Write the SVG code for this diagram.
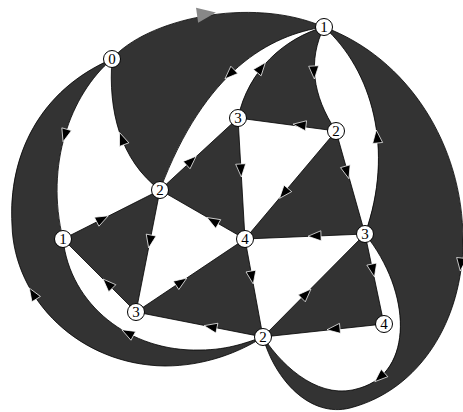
<svg xmlns="http://www.w3.org/2000/svg" xmlns:xlink="http://www.w3.org/1999/xlink" width="463" height="412" viewBox="0 0 463 412">
<defs>
<style>
.dark{fill:#333333;stroke:none}
.white{fill:#ffffff;stroke:none}
.e{fill:none;stroke:#000;stroke-width:0.8}
.ar{fill:#000;stroke:#fff;stroke-width:0.7;stroke-linejoin:miter}
.node circle{fill:#fff;stroke:#000;stroke-width:1}
.node text{font-family:"Liberation Serif","DejaVu Serif",serif;font-size:15px;fill:#000;text-anchor:middle;dominant-baseline:central}
</style>
<path id="ah" d="M7,0 L-6,-5 L-6,5 Z"/>
</defs>
<rect width="463" height="412" fill="#fff"/>
<g id="faces">
<path class="dark" d="M112,59 C145,20 250,-5 324,27 C408,58 463,145 463,240 C463,320 420,390 350,408 C310,418 275,380 263,337 C240,352 205,366 165,366 C80,365 14,300 12,225 C8,155 40,90 112,59 Z"/>
<path class="white" d="M112,59 C108,110 120,160 160,190 L63,239 C45,165 70,95 112,59 Z"/>
<path class="white" d="M63,239 L136,312 L263,337 C250,341 230,350 200,350 C130,352 70,305 63,239 Z"/>
<path class="white" d="M160,190 L136,312 L245,239 Z"/>
<path class="white" d="M160,190 L238,118 C248,70 285,38 324,27 C270,35 205,70 160,190 Z"/>
<path class="white" d="M238,118 L336,131 L245,239 Z"/>
<path class="white" d="M324,27 C308,60 312,95 336,131 L365,234 C395,150 372,70 324,27 Z"/>
<path class="white" d="M245,239 L365,234 L263,337 Z"/>
<path class="white" d="M365,234 L384,324 L263,337 C285,370 322,401 360,388 C414,372 412,292 365,234 Z"/>
</g>
<g id="connectors">
<path class="e" d="M112,59 C145,20 250,-5 324,27"/>
<path class="e" d="M324,27 C408,58 463,145 463,240 C463,320 420,390 350,408 C310,418 275,380 263,337"/>
<path class="e" d="M112,59 C40,90 8,155 12,225 C14,300 80,365 165,366 C205,366 240,352 263,337"/>
<path class="e" d="M112,59 C70,95 45,165 63,239"/>
<path class="e" d="M112,59 C108,110 120,160 160,190"/>
<path class="e" d="M324,27 C270,35 205,70 160,190"/>
<path class="e" d="M324,27 C285,38 248,70 238,118"/>
<path class="e" d="M324,27 C308,60 312,95 336,131"/>
<path class="e" d="M324,27 C372,70 395,150 365,234"/>
<path class="e" d="M63,239 C70,305 130,352 200,350 C230,350 250,341 263,337"/>
<path class="e" d="M365,234 C412,292 414,372 360,388 C322,401 285,370 263,337"/>
<path class="e" d="M238,118 L336,131 M238,118 L245,239 M336,131 L245,239 M336,131 L365,234 M160,190 L238,118 M160,190 L245,239 M160,190 L136,312 M160,190 L63,239 M63,239 L136,312 M136,312 L245,239 M136,312 L263,337 M245,239 L365,234 M245,239 L263,337 M365,234 L263,337 M365,234 L384,324 M384,324 L263,337"/>
<g id="arrows">
<path d="M10,0 L-9,-7.5 L-9,7.5 Z" fill="#888" transform="translate(206,14) rotate(-8)"/>
<use xlink:href="#ah" class="ar" transform="translate(230,74) rotate(136)"/>
<use xlink:href="#ah" class="ar" transform="translate(261,68) rotate(-51)"/>
<use xlink:href="#ah" class="ar" transform="translate(314,72) rotate(87)"/>
<use xlink:href="#ah" class="ar" transform="translate(377,137) rotate(-96)"/>
<use xlink:href="#ah" class="ar" transform="translate(300,125) rotate(187)"/>
<use xlink:href="#ah" class="ar" transform="translate(241,170) rotate(87)"/>
<use xlink:href="#ah" class="ar" transform="translate(284,193) rotate(130)"/>
<use xlink:href="#ah" class="ar" transform="translate(347,172) rotate(74)"/>
<use xlink:href="#ah" class="ar" transform="translate(315,236) rotate(178)"/>
<use xlink:href="#ah" class="ar" transform="translate(373,270) rotate(78)"/>
<use xlink:href="#ah" class="ar" transform="translate(334,329) rotate(174)"/>
<use xlink:href="#ah" class="ar" transform="translate(306,294) rotate(-45)"/>
<use xlink:href="#ah" class="ar" transform="translate(380,377) rotate(138)"/>
<use xlink:href="#ah" class="ar" transform="translate(252,277) rotate(80)"/>
<use xlink:href="#ah" class="ar" transform="translate(181,282) rotate(-34)"/>
<use xlink:href="#ah" class="ar" transform="translate(213,221) rotate(210)"/>
<use xlink:href="#ah" class="ar" transform="translate(150,241) rotate(101)"/>
<use xlink:href="#ah" class="ar" transform="translate(102,219) rotate(-27)"/>
<use xlink:href="#ah" class="ar" transform="translate(191,161) rotate(-43)"/>
<use xlink:href="#ah" class="ar" transform="translate(108,284) rotate(-135)"/>
<use xlink:href="#ah" class="ar" transform="translate(211,327) rotate(191)"/>
<use xlink:href="#ah" class="ar" transform="translate(128,333) rotate(208)"/>
<use xlink:href="#ah" class="ar" transform="translate(65,135) rotate(106)"/>
<use xlink:href="#ah" class="ar" transform="translate(122,139) rotate(-111)"/>
<use xlink:href="#ah" class="ar" transform="translate(33,294) rotate(-122)"/>
<use xlink:href="#ah" class="ar" transform="translate(461,264) rotate(96)"/>
</g>
</g>
<g id="n0" class="node"><circle cx="112" cy="59" r="8.5"/><text x="112" y="59">0</text></g>
<g id="n1a" class="node"><circle cx="324" cy="27" r="8.5"/><text x="324" y="27">1</text></g>
<g id="n3a" class="node"><circle cx="238" cy="118" r="8.5"/><text x="238" y="118">3</text></g>
<g id="n2a" class="node"><circle cx="336" cy="131" r="8.5"/><text x="336" y="131">2</text></g>
<g id="n2b" class="node"><circle cx="160" cy="190" r="8.5"/><text x="160" y="190">2</text></g>
<g id="n1b" class="node"><circle cx="63" cy="239" r="8.5"/><text x="63" y="239">1</text></g>
<g id="n4a" class="node"><circle cx="245" cy="239" r="8.5"/><text x="245" y="239">4</text></g>
<g id="n3b" class="node"><circle cx="365" cy="234" r="8.5"/><text x="365" y="234">3</text></g>
<g id="n3c" class="node"><circle cx="136" cy="312" r="8.5"/><text x="136" y="312">3</text></g>
<g id="n2c" class="node"><circle cx="263" cy="337" r="8.5"/><text x="263" y="337">2</text></g>
<g id="n4b" class="node"><circle cx="384" cy="324" r="8.5"/><text x="384" y="324">4</text></g>
</svg>
